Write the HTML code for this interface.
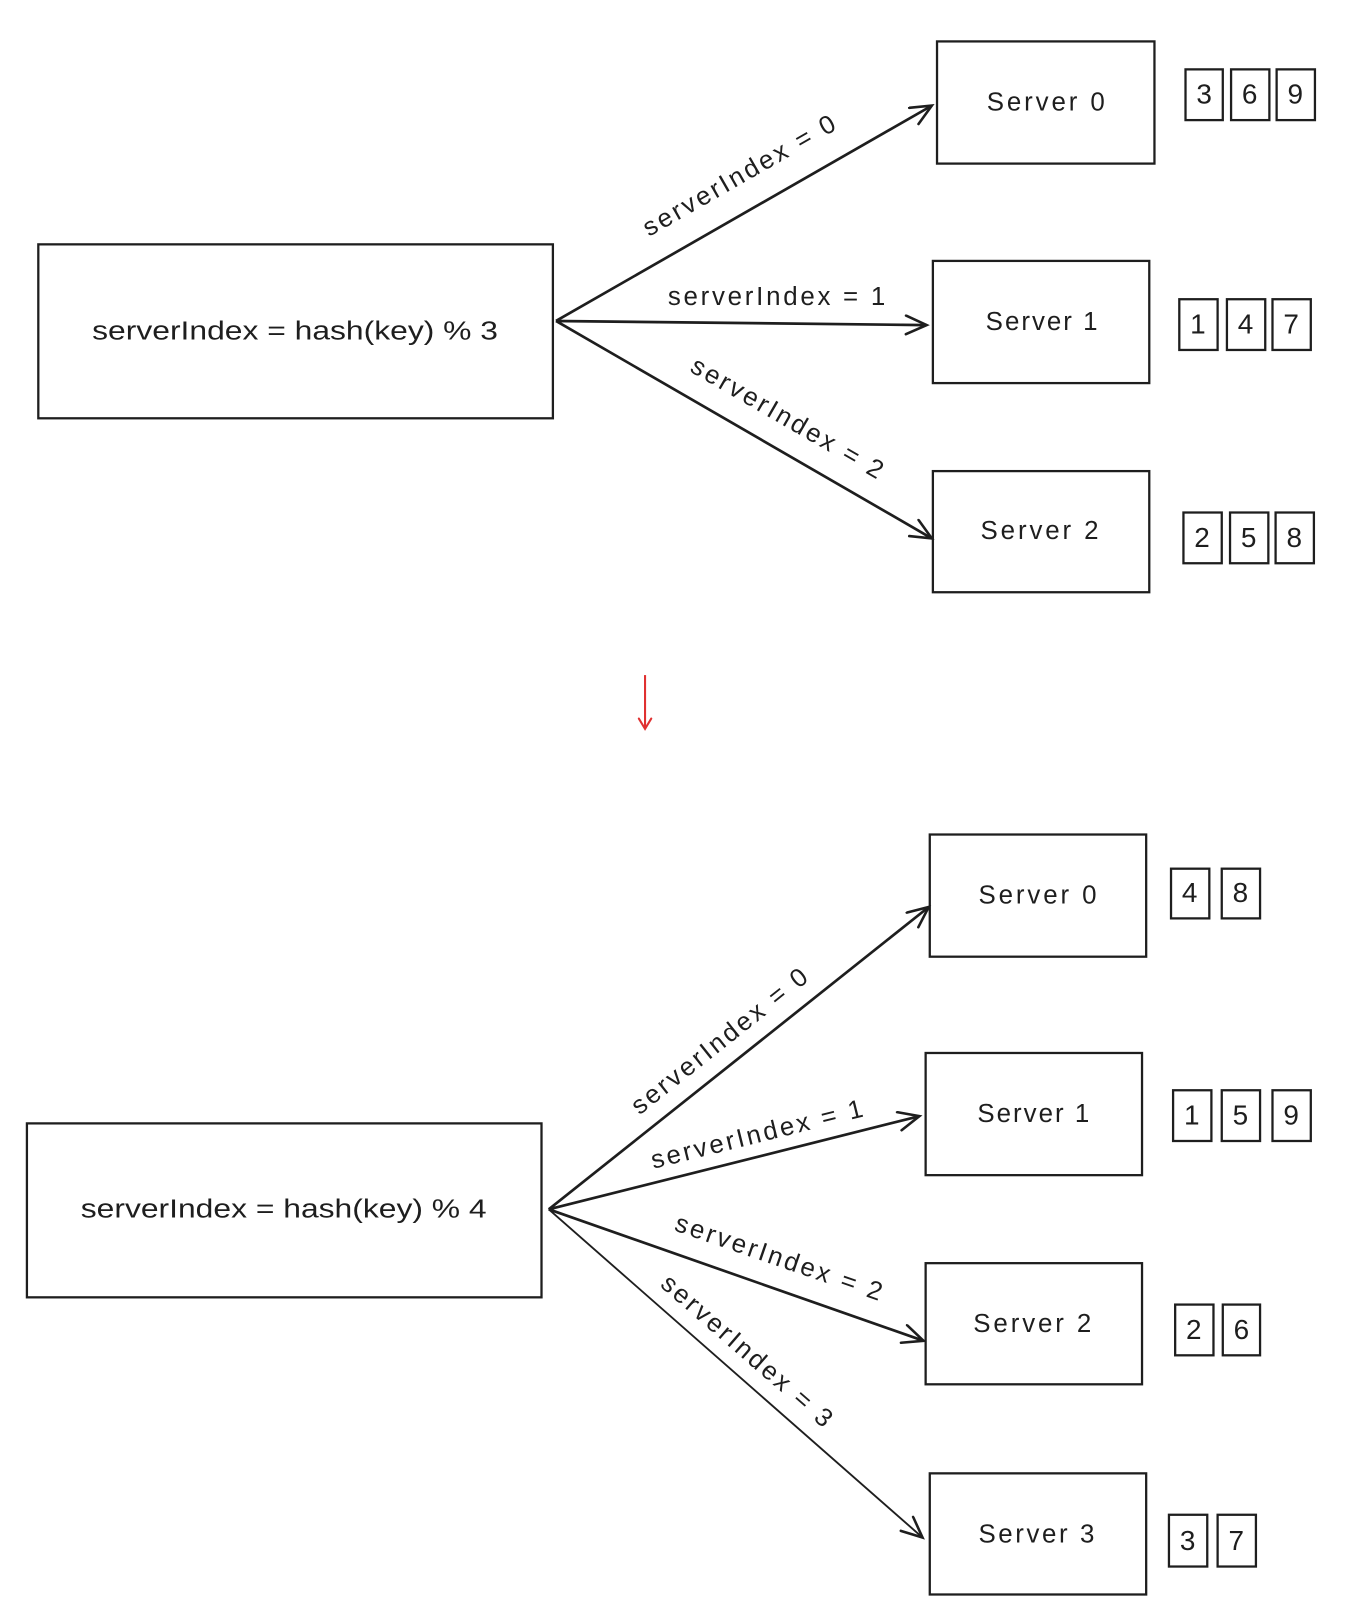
<!DOCTYPE html>
<html><head><meta charset="utf-8"><style>
html,body{margin:0;padding:0;background:#fff}
svg{display:block}
text{font-family:"Liberation Sans",sans-serif;fill:#1e1e1e}
</style></head><body>
<svg width="1346" height="1624" viewBox="0 0 1300 1568.5" preserveAspectRatio="none" xmlns="http://www.w3.org/2000/svg">
<defs>
<marker id="ah" markerWidth="30" markerHeight="30" refX="22" refY="10" orient="auto" markerUnits="userSpaceOnUse">
<path d="M2,1 L22,10 L2,19" fill="none" stroke="#1e1e1e" stroke-width="2.5" stroke-linecap="round"/>
</marker>
<marker id="ahr" markerWidth="20" markerHeight="20" refX="12" refY="8" orient="auto" markerUnits="userSpaceOnUse">
<path d="M2,2 L12,8 L2,14" fill="none" stroke="#e03131" stroke-width="2" stroke-linecap="round"/>
</marker>
</defs>
<g fill="none" stroke="#1e1e1e" stroke-width="2.2">
<rect x="37" y="236" width="497" height="168"/>
<rect x="905" y="40" width="210" height="118"/>
<rect x="901" y="252" width="209" height="118"/>
<rect x="901" y="455" width="209" height="117"/>
<rect x="1145" y="67" width="36" height="49"/><rect x="1189" y="67" width="37" height="49"/><rect x="1233" y="67" width="37" height="49"/>
<rect x="1139" y="289" width="37" height="49"/><rect x="1185" y="289" width="37" height="49"/><rect x="1229" y="289" width="37" height="49"/>
<rect x="1143" y="495" width="37" height="49"/><rect x="1188" y="495" width="37" height="49"/><rect x="1232" y="495" width="37" height="49"/>
<rect x="26" y="1085" width="497" height="168"/>
<rect x="898" y="806" width="209" height="118"/>
<rect x="894" y="1017" width="209" height="118"/>
<rect x="894" y="1220" width="209" height="117"/>
<rect x="898" y="1423" width="209" height="117"/>
<rect x="1131" y="839" width="37" height="48"/><rect x="1180" y="839" width="37" height="48"/>
<rect x="1133" y="1053" width="37" height="49"/><rect x="1180" y="1053" width="37" height="49"/><rect x="1229" y="1053" width="37" height="49"/>
<rect x="1135" y="1260" width="37" height="49"/><rect x="1181" y="1260" width="36" height="49"/>
<rect x="1129" y="1463" width="37" height="50"/><rect x="1176" y="1463" width="37" height="50"/>
<g stroke-width="2.6" marker-end="url(#ah)">
<line x1="537" y1="310" x2="900" y2="102"/>
<line x1="537" y1="310" x2="895" y2="314"/>
<line x1="537" y1="310" x2="900" y2="520"/>
<line x1="530" y1="1168" x2="897" y2="876"/>
<line x1="530" y1="1168" x2="888" y2="1078"/>
<line x1="530" y1="1168" x2="892" y2="1295"/>
<line x1="530" y1="1168" x2="891" y2="1485" stroke-width="1.8"/>
</g>
<line x1="623" y1="652" x2="623" y2="704" stroke="#e03131" stroke-width="2" marker-end="url(#ahr)"/>
</g>
<g font-size="25" text-anchor="middle" dominant-baseline="central">
<text x="285" y="320" textLength="392" lengthAdjust="spacingAndGlyphs">serverIndex = hash(key) % 3</text>
<text x="274" y="1168" textLength="392" lengthAdjust="spacingAndGlyphs">serverIndex = hash(key) % 4</text>
<g lengthAdjust="spacingAndGlyphs">
<text x="1010" y="99" textLength="114">Server 0</text>
<text x="1006" y="311" textLength="108">Server 1</text>
<text x="1004" y="513" textLength="114">Server 2</text>
<text x="1002" y="865" textLength="114">Server 0</text>
<text x="998" y="1076" textLength="108">Server 1</text>
<text x="997" y="1279" textLength="114">Server 2</text>
<text x="1001" y="1482" textLength="112">Server 3</text>
</g>
<g font-size="27">
<text x="1163" y="91">3</text><text x="1207" y="91">6</text><text x="1251" y="91">9</text>
<text x="1157" y="313">1</text><text x="1203" y="313">4</text><text x="1247" y="313">7</text>
<text x="1161" y="519">2</text><text x="1206" y="519">5</text><text x="1250" y="519">8</text>
<text x="1149" y="862">4</text><text x="1198" y="862">8</text>
<text x="1151" y="1077">1</text><text x="1198" y="1077">5</text><text x="1247" y="1077">9</text>
<text x="1153" y="1284">2</text><text x="1199" y="1284">6</text>
<text x="1147" y="1488">3</text><text x="1194" y="1488">7</text>
</g>
<g lengthAdjust="spacingAndGlyphs">
<text transform="translate(714,170) rotate(-29.8)" textLength="210">serverIndex = 0</text>
<text transform="translate(750,287)" textLength="210">serverIndex = 1</text>
<text transform="translate(760,404) rotate(30)" textLength="210">serverIndex = 2</text>
<text transform="translate(695,1006) rotate(-38.5)" textLength="210">serverIndex = 0</text>
<text transform="translate(731,1096) rotate(-14)" textLength="210">serverIndex = 1</text>
<text transform="translate(752,1215) rotate(19)" textLength="210">serverIndex = 2</text>
<text transform="translate(721,1305) rotate(41)" textLength="210">serverIndex = 3</text>
</g>
</g>
</svg>
</body></html>
